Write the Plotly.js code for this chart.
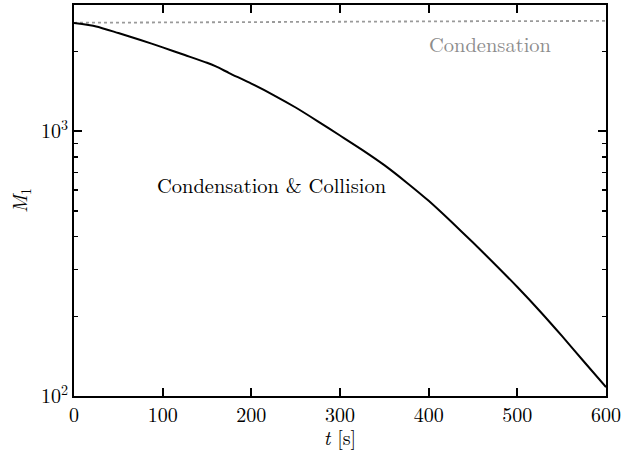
<!DOCTYPE html>
<html>
<head>
<meta charset="utf-8">
<script src="https://cdn.plot.ly/plotly-3.0.1.min.js"></script>
<style>html,body{margin:0;padding:0;background:#fff;}</style>
</head>
<body>
<div id="chart" style="width:622px;height:451px;"></div>
<script>
// Time (s)
const tCollision = [0, 25, 50, 75, 100, 125, 150, 160, 175, 200, 225, 250, 275, 300, 325, 350, 375, 400, 425, 450, 475, 500, 525, 550, 575, 600];
// M1 for condensation & collision
const m1Collision = [2565, 2490, 2350, 2213, 2075, 1941, 1815, 1758, 1660, 1514, 1371, 1230, 1091, 964, 851, 745, 641, 546, 457, 380, 314, 258, 210, 169, 135, 108];
// Condensation only
const tCondensation = [0, 150, 300, 450, 600];
const m1Condensation = [2570, 2585, 2595, 2605, 2612];

const yTickVals = [100, 1000];
const yTickText = ["10<sup>2</sup>", "10<sup>3</sup>"];
const yMinorVals = [200, 300, 400, 500, 600, 700, 800, 900, 2000, 3000];
const xTickVals = [0, 100, 200, 300, 400, 500, 600];

const font = "Latin Modern Roman";

const traces = [
  {x: tCondensation, y: m1Condensation, mode: "lines", type: "scatter",
   line: {color: "#9a9a9a", width: 1.8, dash: "dot"}, hoverinfo: "skip"},
  {x: tCollision, y: m1Collision, mode: "lines", type: "scatter",
   line: {color: "#000", width: 2, shape: "spline", smoothing: 0.6}, hoverinfo: "skip"}
];

const layout = {
  width: 622, height: 451,
  margin: {l: 74, r: 16, t: 5, b: 55},
  paper_bgcolor: "#fff", plot_bgcolor: "#fff",
  showlegend: false,
  font: {family: font, size: 20, color: "#000"},
  xaxis: {
    range: [0, 600], tickmode: "array", tickvals: xTickVals,
    ticks: "inside", ticklen: 8, tickwidth: 2, tickcolor: "#000",
    showline: true, linecolor: "#000", linewidth: 2, mirror: "ticks",
    showgrid: false, zeroline: false,
    tickfont: {family: font, size: 20, color: "#000"},
    title: {text: "<i>t</i> [s]", font: {family: font, size: 20, color: "#000"}, standoff: 2}
  },
  yaxis: {
    type: "log", range: [2, Math.log10(3000)],
    tickmode: "array", tickvals: yTickVals, ticktext: yTickText,
    ticks: "inside", ticklen: 8, tickwidth: 2, tickcolor: "#000",
    showline: true, linecolor: "#000", linewidth: 2, mirror: "ticks",
    showgrid: false, zeroline: false,
    tickfont: {family: font, size: 20, color: "#000"},
    minor: {tickmode: "array", tickvals: yMinorVals, ticks: "inside", ticklen: 4, tickwidth: 1.5, tickcolor: "#000", showgrid: false},
    title: {text: "<i>M</i><sub>1</sub>", font: {family: font, size: 20, color: "#000"}, standoff: 8}
  },
  annotations: [
    {x: 469, y: Math.log10(2146), xref: "x", yref: "y", text: "Condensation",
     showarrow: false, font: {family: font, size: 20.5, color: "#8c8c8c"}},
    {x: 223, y: Math.log10(631), xref: "x", yref: "y", text: "Condensation &amp; Collision",
     showarrow: false, font: {family: font, size: 20.5, color: "#000"}}
  ]
};

Plotly.newPlot("chart", traces, layout, {staticPlot: true, displayModeBar: false});
</script>
</body>
</html>
